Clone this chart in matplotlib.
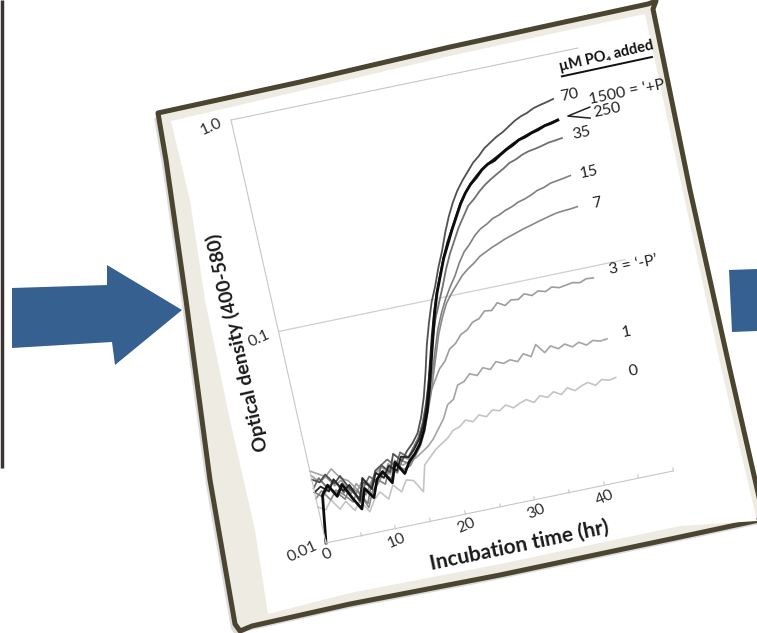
"""Growth curves (optical density vs incubation time) drawn on a tilted card between two arrows"""

import matplotlib

matplotlib.use("Agg")
import matplotlib.pyplot as plt
import numpy as np
from matplotlib.patches import Polygon
from matplotlib.transforms import Affine2D
from mpl_toolkits.axisartist import floating_axes
from mpl_toolkits.axisartist.grid_finder import DictFormatter, FixedLocator

plt.rcParams["font.family"] = ["Lato", "DejaVu Sans"]

# ---- data: log10(optical density) read hourly, 0..45 h ----
hours = np.arange(0, 46)

od_70 = [-1.70, -1.72, -1.69, -1.74, -1.71, -1.78, -1.83, -1.76, -1.79, -1.72, -1.70, -1.74, -1.66, -1.70,
         -1.66, -1.63, -1.59, -1.52, -1.43, -1.32, -1.20, -1.10, -1.01, -0.94, -0.86, -0.79, -0.71, -0.64,
         -0.58, -0.53, -0.49, -0.455, -0.42, -0.395, -0.365, -0.345, -0.325, -0.31, -0.29, -0.27, -0.255,
         -0.245, -0.23, -0.222, -0.215, -0.207]
od_250 = [-2.00, -1.78, -1.74, -1.80, -1.75, -1.82, -1.88, -1.79, -1.84, -1.76, -1.73, -1.79, -1.70, -1.76,
          -1.71, -1.68, -1.64, -1.58, -1.50, -1.40, -1.29, -1.18, -1.07, -0.976, -0.90, -0.825, -0.765,
          -0.705, -0.65, -0.595, -0.55, -0.515, -0.49, -0.46, -0.44, -0.43, -0.41, -0.392, -0.378, -0.36,
          -0.352, -0.34, -0.332, -0.32, -0.315, -0.307]
od_1500 = [-1.76, -1.74, -1.77, -1.72, -1.78, -1.76, -1.84, -1.74, -1.80, -1.73, -1.76, -1.71, -1.74, -1.68,
           -1.69, -1.66, -1.62, -1.56, -1.48, -1.38, -1.27, -1.16, -1.06, -0.97, -0.895, -0.82, -0.755,
           -0.70, -0.645, -0.59, -0.548, -0.512, -0.483, -0.458, -0.438, -0.422, -0.406, -0.388, -0.372,
           -0.358, -0.347, -0.337, -0.327, -0.318, -0.311, -0.304]
od_35 = [-1.74, -1.70, -1.76, -1.72, -1.79, -1.76, -1.85, -1.78, -1.74, -1.77, -1.70, -1.68, -1.72, -1.66,
         -1.69, -1.65, -1.61, -1.55, -1.47, -1.38, -1.28, -1.18, -1.09, -1.02, -0.95, -0.875, -0.81, -0.755,
         -0.70, -0.655, -0.61, -0.585, -0.555, -0.53, -0.51, -0.492, -0.475, -0.455, -0.445, -0.43, -0.42,
         -0.415, -0.408, -0.40, -0.396, -0.392]
od_15 = [-1.76, -1.79, -1.75, -1.78, -1.82, -1.77, -1.80, -1.86, -1.78, -1.76, -1.79, -1.72, -1.75, -1.70,
         -1.72, -1.68, -1.64, -1.58, -1.50, -1.41, -1.32, -1.23, -1.14, -1.07, -1.01, -0.96, -0.915, -0.86,
         -0.815, -0.785, -0.75, -0.725, -0.71, -0.69, -0.68, -0.665, -0.655, -0.64, -0.632, -0.62, -0.605,
         -0.598, -0.585, -0.58, -0.575, -0.569]
od_7 = [-1.79, -1.76, -1.81, -1.77, -1.80, -1.84, -1.79, -1.88, -1.81, -1.78, -1.74, -1.77, -1.71, -1.74,
        -1.73, -1.69, -1.65, -1.59, -1.51, -1.43, -1.34, -1.25, -1.16, -1.09, -1.03, -0.99, -0.955, -0.92,
        -0.895, -0.875, -0.85, -0.835, -0.82, -0.808, -0.795, -0.785, -0.775, -0.765, -0.757, -0.748,
        -0.74, -0.732, -0.725, -0.722, -0.72, -0.716]
od_3 = [-1.68, -1.72, -1.70, -1.75, -1.73, -1.80, -1.76, -1.82, -1.77, -1.73, -1.76, -1.70, -1.74, -1.68,
        -1.70, -1.66, -1.61, -1.55, -1.48, -1.42, -1.37, -1.32, -1.29, -1.24, -1.22, -1.185, -1.17, -1.14,
        -1.13, -1.10, -1.105, -1.075, -1.095, -1.075, -1.08, -1.06, -1.075, -1.06, -1.07, -1.055, -1.065,
        -1.06, -1.055, -1.062, -1.05, -1.053]
od_1 = [-1.66, -1.68, -1.70, -1.67, -1.72, -1.74, -1.79, -1.75, -1.78, -1.73, -1.71, -1.75, -1.69, -1.72,
        -1.71, -1.70, -1.68, -1.66, -1.63, -1.59, -1.55, -1.49, -1.47, -1.41, -1.40, -1.37, -1.385, -1.355,
        -1.37, -1.34, -1.355, -1.345, -1.36, -1.33, -1.35, -1.30, -1.345, -1.32, -1.34, -1.325, -1.345,
        -1.33, -1.35, -1.335, -1.345, -1.341]
od_0 = [-1.83, -1.85, -1.81, -1.86, -1.83, -1.88, -1.84, -1.90, -1.85, -1.82, -1.86, -1.80, -1.84, -1.79,
        -1.80, -1.86, -1.74, -1.71, -1.68, -1.66, -1.64, -1.61, -1.60, -1.575, -1.59, -1.565, -1.58,
        -1.555, -1.565, -1.545, -1.565, -1.55, -1.54, -1.56, -1.535, -1.55, -1.53, -1.55, -1.525, -1.545,
        -1.53, -1.52, -1.54, -1.52, -1.53, -1.524]

series = [
    (od_0, "#c4c4c4", 1.2),
    (od_1, "#a4a4a4", 1.2),
    (od_3, "#9c9c9c", 1.2),
    (od_7, "#888888", 1.2),
    (od_15, "#808080", 1.2),
    (od_35, "#707070", 1.3),
    (od_70, "#505050", 1.3),
    (od_1500, "#262626", 1.3),
    (od_250, "#0d0d0d", 2.0),
]

# curve labels: text, hours, log10 OD, alignment
curve_labels = [
    ("70", 47.4, -0.205, "center"),
    ("1500 = \u2018+P", 50.0, -0.246, "left"),
    ("250", 50.05, -0.308, "left"),
    ("35", 47.9, -0.388, "center"),
    ("15", 47.7, -0.571, "center"),
    ("7", 47.8, -0.718, "center"),
    ("3 = \u2018-P\u2019", 47.4, -1.032, "left"),
    ("1", 47.8, -1.33, "center"),
    ("0", 47.7, -1.51, "center"),
]

x_ticks = [0, 5, 10, 15, 20, 25, 30, 35, 40, 45, 50]
x_tick_labels = {0: "0", 10: "10", 20: "20", 30: "30", 40: "40"}
y_ticks = [-2, -1, 0]
y_tick_labels = {-2: "0.01", -1: "0.1", 0: "1.0"}

W, H = 757, 633
fig = plt.figure(figsize=(W / 100, H / 100), dpi=100)

# ---- background: card, arrows ----
bg = fig.add_axes([0, 0, 1, 1])
bg.set_xlim(0, W)
bg.set_ylim(H, 0)
bg.axis("off")

card = [(158, 113), (300, 82), (450, 47), (560, 23), (648, 4), (656, 1), (653, 9), (690, 190),
        (730, 370), (764, 519), (680, 537), (500, 575), (350, 604), (252, 626), (240, 631),
        (235, 624), (210, 480), (186, 300), (166, 160), (160, 125)]
inner = [(171, 121), (300, 91), (450, 56), (560, 32), (645, 14), (683, 192), (722, 372), (757, 521),
         (680, 526), (500, 564), (350, 593), (268, 614), (255, 530), (230, 420), (205, 300),
         (190, 200)]
shadow = [(x - 4, y + 5) for x, y in card]
bg.add_patch(Polygon(shadow, closed=True, facecolor="#9a9a9a", edgecolor="none", alpha=0.35))
bg.add_patch(Polygon(card, closed=True, facecolor="#eeece2", edgecolor="#4a4430", linewidth=3.6,
                     joinstyle="round"))
bg.add_patch(Polygon(inner, closed=True, facecolor="white", edgecolor="none"))

arrow_blue = "#36608f"
left_arrow = [(12, 288), (107, 285), (107, 265), (182, 310), (115, 365), (112, 342), (12, 348)]
bg.add_patch(Polygon(left_arrow, closed=True, facecolor=arrow_blue, edgecolor="none"))
right_arrow = [(729, 270), (757, 269), (757, 331), (732, 332)]
bg.add_patch(Polygon(right_arrow, closed=True, facecolor=arrow_blue, edgecolor="none"))
bg.plot([1.5, 1.5], [0, 468], color="#3b3232", linewidth=2.5, solid_capstyle="butt")

# ---- tilted chart: (hours, log10 OD) -> figure pixels ----
tr = Affine2D(np.array([[6.94, -47.5, 231.0], [1.44, 211.5, 513.0], [0.0, 0.0, 1.0]]))
grid_helper = floating_axes.GridHelperCurveLinear(
    tr,
    extremes=(0, 50, -2, 0),
    grid_locator1=FixedLocator(x_ticks),
    tick_formatter1=DictFormatter(x_tick_labels),
    grid_locator2=FixedLocator(y_ticks),
    tick_formatter2=DictFormatter(y_tick_labels),
)

corners = tr.transform([(0, -2), (50, -2), (0, 0), (50, 0)])
(x0, y0), (x1, y1) = corners.min(axis=0), corners.max(axis=0)
cx, cy = (x0 + x1) / 2, (y0 + y1) / 2
hw, hh = (x1 - x0) / 2 * 1.02, (y1 - y0) / 2 * 1.02
rect = [(cx - hw) / W, (cy - hh) / H, 2 * hw / W, 2 * hh / H]

ax = fig.add_axes(rect, axes_class=floating_axes.FloatingAxes, grid_helper=grid_helper)
ax.patch.set_facecolor("white")
ax.grid(True, axis="y", color="#cfcfcf", linewidth=0.9)

angle = np.degrees(np.arctan2(1.44, 6.94))
axis_grey = "#c6c6c6"
ax.axis["right"].set_visible(False)
ax.axis["top"].line.set_color(axis_grey)
ax.axis["top"].major_ticks.set_visible(False)
ax.axis["left"].line.set_color(axis_grey)
ax.axis["left"].major_ticks.set_ticksize(0)
ax.axis["bottom"].line.set_color(axis_grey)
ax.axis["bottom"].major_ticks.set_color(axis_grey)
ax.axis["bottom"].major_ticks.set_ticksize(3)

for side in ["left", "bottom"]:
    ax.axis[side].major_ticklabels.set(fontsize=11.5, color="#2e2e2e")
ax.axis["bottom"].major_ticklabels.set_rotation(angle)
ax.axis["left"].major_ticklabels.set_rotation(angle + 90)
ax.axis["left"].major_ticklabels.set_pad(7)
ax.axis["left"].label.set_visible(False)
ax.axis["bottom"].label.set_visible(False)

aux = ax.get_aux_axes(tr)
for values, color, width in series:
    aux.plot(hours, values, color=color, linewidth=width, solid_joinstyle="round")

# axis titles, placed in chart coordinates
aux.text(-5.9, -1.01, "Optical density (400-580)", fontsize=14, fontweight="bold", color="#1a1a1a",
         ha="center", va="center", rotation=90 + 12.7, rotation_mode="anchor")
aux.text(26.6, -2.19, "Incubation time (hr)", fontsize=15, fontweight="bold", color="#1a1a1a",
         ha="center", va="center", rotation=angle, rotation_mode="anchor")

for text, t, v, align in curve_labels:
    aux.text(t, v, text, fontsize=11.5, color="#222222", ha=align, va="center",
             rotation=angle, rotation_mode="anchor")

# bracket joining 1500 and 250 labels to the black curve
aux.plot([49.8, 46.5, 49.5], [-0.278, -0.298, -0.328], color="#222222", linewidth=1.1, clip_on=False)

aux.text(53.6, -0.062, "\u00b5M PO\u2084 added", fontsize=10.5, fontweight="bold", color="#111111",
         ha="center", va="center", rotation=angle + 1.5, rotation_mode="anchor")
aux.plot([46.9, 59.9], [-0.113, -0.110], color="#111111", linewidth=1.4, clip_on=False)

fig.savefig("out.png", dpi=100)
